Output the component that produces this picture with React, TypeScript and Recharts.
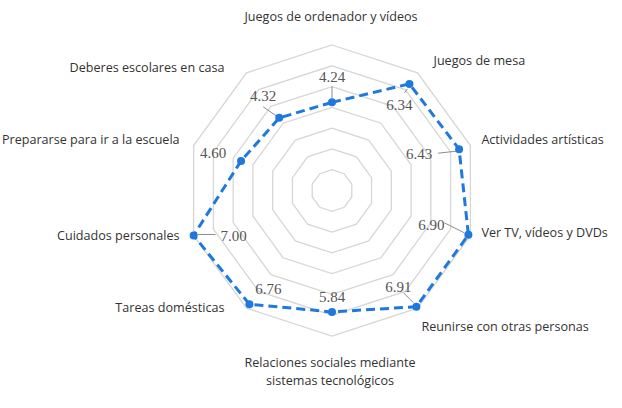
import React from 'react';
import { RadarChart, Radar, PolarGrid, PolarAngleAxis, PolarRadiusAxis } from 'recharts';

const categories = [
  'Juegos de ordenador y vídeos',
  'Juegos de mesa',
  'Actividades artísticas',
  'Ver TV, vídeos y DVDs',
  'Reunirse con otras personas',
  'Relaciones sociales mediante\nsistemas tecnológicos',
  'Tareas domésticas',
  'Cuidados personales',
  'Prepararse para ir a la escuela',
  'Deberes escolares en casa',
];

const scores = [4.24, 6.34, 6.43, 6.9, 6.91, 5.84, 6.76, 7.0, 4.6, 4.32];

const radiusTicks = [0, 1, 2, 3, 4, 5, 6, 7];

const data = categories.map((name, i) => ({ name, value: scores[i] }));

const CX = 332;
const CY = 190.5;
const R = 145.5;
const BLUE = '#1f78dc';

// where each category label sits relative to its outer vertex
const tickPlacement: { dx: number; dy: number; anchor: 'start' | 'middle' | 'end' }[] = [
  { dx: -1, dy: -28, anchor: 'middle' },
  { dx: 16, dy: -12, anchor: 'start' },
  { dx: 11, dy: -6, anchor: 'start' },
  { dx: 11, dy: -3, anchor: 'start' },
  { dx: 4, dy: 18, anchor: 'start' },
  { dx: -2, dy: 27, anchor: 'middle' },
  { dx: -22, dy: -1, anchor: 'end' },
  { dx: -14, dy: 0, anchor: 'end' },
  { dx: -14, dy: -6, anchor: 'end' },
  { dx: -22, dy: -5, anchor: 'end' },
];

// value label offset from its dot, plus optional leader line
const valuePlacement: { dx: number; dy: number; line?: [number, number, number, number] }[] = [
  { dx: 0, dy: -26, line: [0, -16, 0, -4] },
  { dx: -10, dy: 21, line: [-2, 5, -5, 9] },
  { dx: -40, dy: 5, line: [-21, 4, -3, 2] },
  { dx: -37, dy: -10, line: [-24, -12, -4, -2] },
  { dx: -18, dy: -20, line: [-13, -14, -3, -4] },
  { dx: 0, dy: -15 },
  { dx: 19, dy: -15 },
  { dx: 40, dy: 0, line: [4, -1, 22, -1] },
  { dx: -28, dy: -8 },
  { dx: -16, dy: -22, line: [-16, -11, -3, -2] },
];

function CategoryTick(props: any) {
  const { x, y, payload, index } = props;
  const ux = x - CX;
  const uy = y - CY;
  const len = Math.sqrt(ux * ux + uy * uy) || 1;
  const vx = CX + (ux / len) * R;
  const vy = CY + (uy / len) * R;
  const p = tickPlacement[index] || { dx: 0, dy: 0, anchor: 'middle' };
  const lines = String(payload.value).split('\n');
  return (
    <text
      x={vx + p.dx}
      y={vy + p.dy}
      textAnchor={p.anchor}
      fill="#333"
      fontSize={12.6}
      fontFamily="'Open Sans', sans-serif"
    >
      {lines.map((l, i) => (
        <tspan key={i} x={vx + p.dx} dy={i === 0 ? '0.35em' : 18}>
          {l}
        </tspan>
      ))}
    </text>
  );
}

function ValueDot(props: any) {
  const { cx, cy, index, payload } = props;
  const p = valuePlacement[index];
  return (
    <g key={`dot-${index}`}>
      {p.line && (
        <line
          x1={cx + p.line[0]}
          y1={cy + p.line[1]}
          x2={cx + p.line[2]}
          y2={cy + p.line[3]}
          stroke="#8c8c8c"
          strokeWidth={1}
        />
      )}
      <circle cx={cx} cy={cy} r={4} fill={BLUE} />
      <text
        x={cx + p.dx}
        y={cy + p.dy}
        dy="0.35em"
        textAnchor="middle"
        fill="#555"
        fontSize={15}
        fontFamily="'Liberation Serif', serif"
      >
        {payload.value.toFixed(2)}
      </text>
    </g>
  );
}

export default function App() {
  return (
    <div style={{ position: 'fixed', left: 0, top: 0, width: 622, height: 408, background: '#fff' }}>
      <RadarChart width={622} height={408} data={data} cx={CX} cy={CY} outerRadius={R}>
        <PolarGrid gridType="polygon" radialLines={false} stroke="#d6d6d6" strokeWidth={1.3} />
        <PolarRadiusAxis
          domain={[0, 7]}
          ticks={radiusTicks as any}
          tickCount={8}
          tick={false}
          axisLine={false}
        />
        <PolarAngleAxis dataKey="name" tick={<CategoryTick />} tickLine={false} axisLine={false} />
        <Radar
          dataKey="value"
          stroke={BLUE}
          strokeWidth={3}
          strokeDasharray="9 5"
          fill="none"
          fillOpacity={0}
          dot={(p: any) => <ValueDot key={`d-${p.index}`} {...p} />}
          isAnimationActive={false}
        />
      </RadarChart>
    </div>
  );
}
